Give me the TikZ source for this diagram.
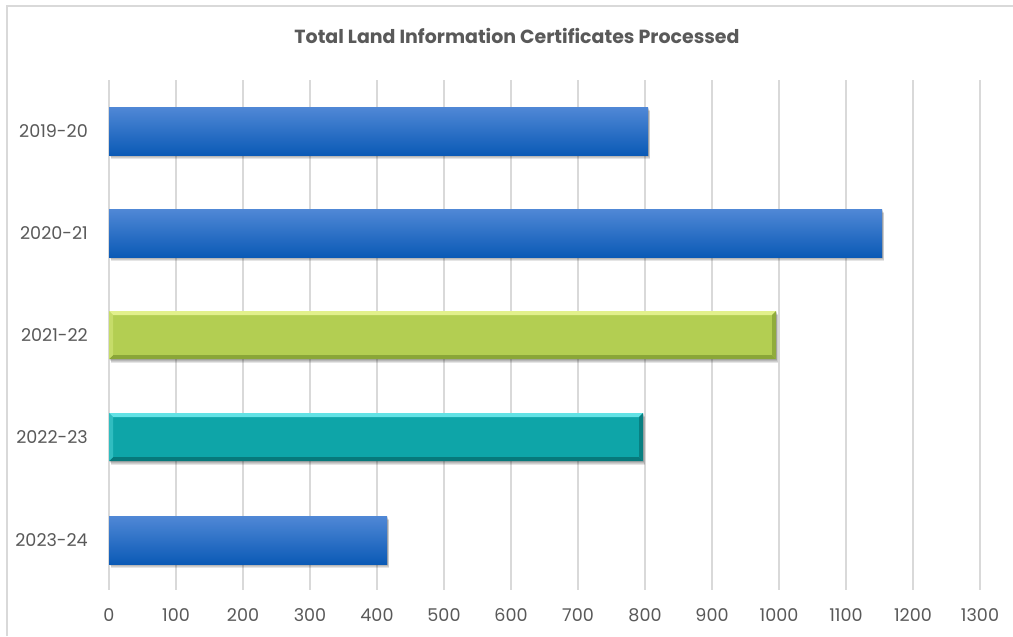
\documentclass[tikz,border=0pt]{standalone}
\usepackage{fontspec}
\setmainfont{Poppins}
\usepackage{xcolor}
\definecolor{gridgrey}{HTML}{D9D9D9}
\definecolor{textgrey}{HTML}{595959}
\definecolor{bluetop}{HTML}{5088D6}
\definecolor{bluebot}{HTML}{0B5AB6}
\definecolor{greenmid}{HTML}{B3CE52}
\definecolor{greenhi}{HTML}{E2F08C}
\definecolor{greenlo}{HTML}{8AA638}
\definecolor{tealmid}{HTML}{0EA5A8}
\definecolor{tealhi}{HTML}{62E2E5}
\definecolor{teallo}{HTML}{07797B}

\tikzset{
  gridline/.style={gridgrey, line width=1.6pt},
  ticklabel/.style={textgrey, font=\fontsize{10}{12}\selectfont},
  catlabel/.style={textgrey, font=\fontsize{10}{12}\selectfont, anchor=east},
  blueshade/.style={top color=bluetop, bottom color=bluebot},
  softshadow/.style={fill=black, opacity=0.10}
}

% soft shadow under a bar: #1 right x, #2 y centre
\newcommand{\barshade}[2]{
  \foreach \s in {1,2,3,4}
    \fill[softshadow] (109+0.5*\s,#2-24+\s) rectangle (#1+0.5*\s,#2+24+\s);
}

% bevelled bar: #1 right x, #2 y centre, #3 face, #4 light edge, #5 dark edge
\newcommand{\bevelbar}[5]{
  \barshade{#1}{#2}
  \fill[#3] (109,#2-24) rectangle (#1,#2+24);
  \fill[#4] (109,#2-24) -- (#1,#2-24) -- (#1-4,#2-20) -- (113,#2-20) -- cycle;
  \fill[#5] (109,#2+24) -- (#1,#2+24) -- (#1-4,#2+20) -- (113,#2+20) -- cycle;
  \fill[#5!85!#3] (#1,#2-24) -- (#1,#2+24) -- (#1-4,#2+20) -- (#1-4,#2-20) -- cycle;
  \fill[#4!40!#3] (109,#2-24) -- (109,#2+24) -- (113,#2+20) -- (113,#2-20) -- cycle;
}

\begin{document}
\begin{tikzpicture}[x=0.02cm, y=-0.02cm]
    \useasboundingbox (0,0) rectangle (1013,636);
    \fill[white] (0,0) rectangle (1013,636);
    % chart frame
    \draw[gridgrey, line width=1.6pt] (7,636) -- (7,6) -- (1013,6);
    \node[textgrey, font=\bfseries\fontsize{10.8}{13}\selectfont] (title) at (517,36) {Total Land Information Certificates Processed};

    % grid and value axis
    \foreach \v in {0,100,...,1300} {
        \draw[gridline] ({109+0.67*\v},80) -- ({109+0.67*\v},590);
        \node[ticklabel] (tick\v) at ({109+0.67*\v},615) {\v};
    }

    % bars
    \barshade{648}{131}
    \shade[blueshade] (109,107) rectangle (648,155);
    \barshade{882}{233}
    \shade[blueshade] (109,209) rectangle (882,257);
    \bevelbar{776}{335}{greenmid}{greenhi}{greenlo}
    \bevelbar{643}{437}{tealmid}{tealhi}{teallo}
    \barshade{387}{540}
    \shade[blueshade] (109,516) rectangle (387,564);

    % category labels
    \foreach \yr/\yc in {2019-20/131, 2020-21/233, 2021-22/335, 2022-23/437, 2023-24/540}
        \node[catlabel] (cat\yr) at (94,\yc) {\yr};
\end{tikzpicture}
\end{document}
